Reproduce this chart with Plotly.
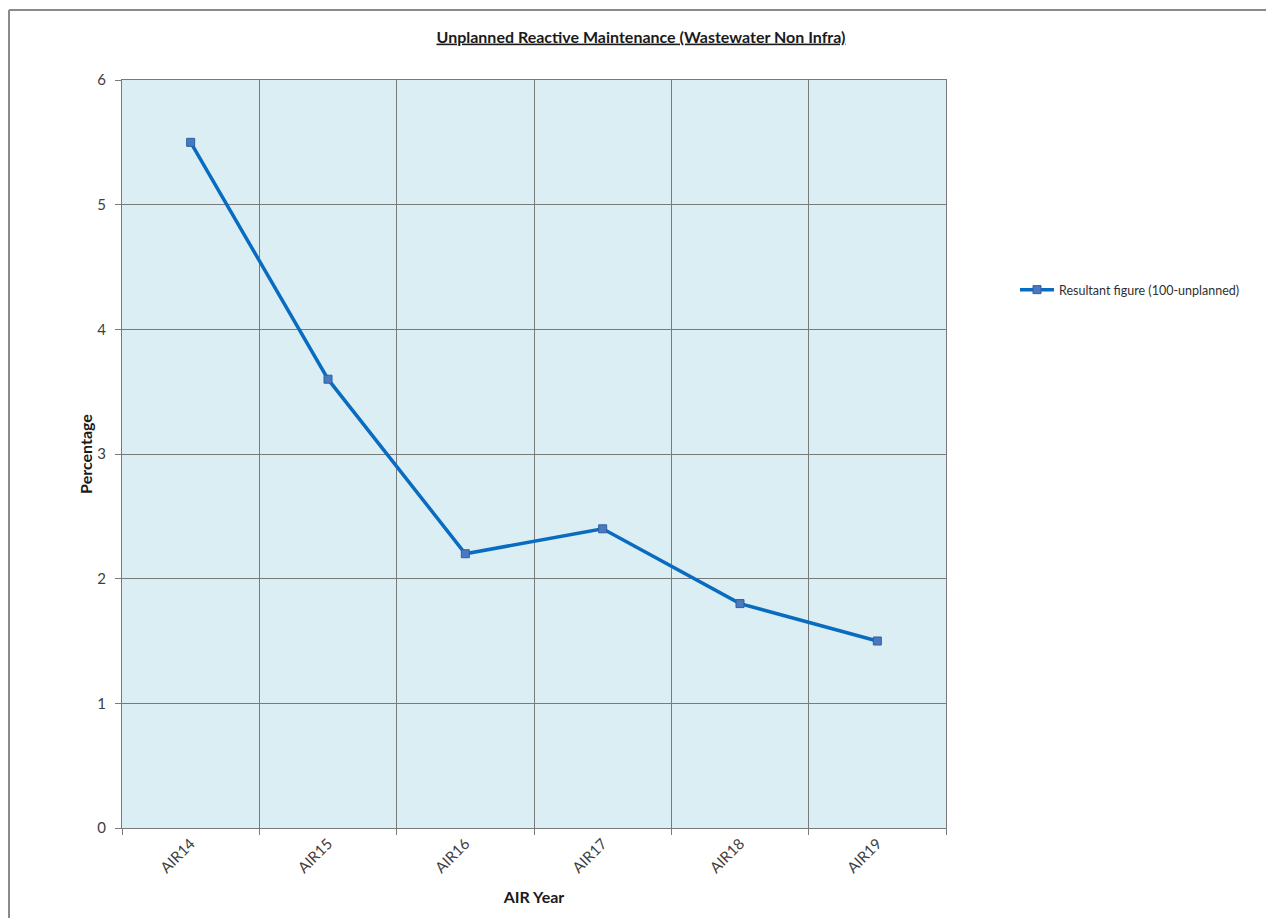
import plotly.graph_objects as go

# data
years = ["AIR14", "AIR15", "AIR16", "AIR17", "AIR18", "AIR19"]
resultant = [5.5, 3.6, 2.2, 2.4, 1.8, 1.5]
y_ticks = [0, 1, 2, 3, 4, 5, 6]

# page has an 8px body margin, so the figure is a bit smaller than the window
PAD = 8
W, H = 1274 - PAD, 918 - PAD
PL, PR, PT, PB = 122, 946, 80, 828          # plot area in page pixels
L, T = PL - PAD, PT - PAD
R, B = W - (PR - PAD), H - (PB - PAD)
pw, ph = PR - PL, PB - PT

FONT = "Lato, Calibri, Carlito, sans-serif"
GRID = "#7a7a7a"

fx = lambda px: (px - PL) / pw
fy = lambda py: (PB - py) / ph

fig = go.Figure()
fig.add_trace(go.Scatter(
    x=years,
    y=resultant,
    mode="lines+markers",
    name="Resultant figure (100-unplanned)",
    line=dict(color="#0a6cc0", width=3.5),
    marker=dict(symbol="square", size=8, color="#4a79c2",
                line=dict(color="#2f5f9e", width=1)),
))

# outer frame (top and left grey edge like the screenshot)
fig.add_shape(type="line", xref="paper", yref="paper",
              x0=fx(9), x1=fx(1274), y0=fy(10), y1=fy(10),
              line=dict(color="#8a8a8a", width=2))
fig.add_shape(type="line", xref="paper", yref="paper",
              x0=fx(9), x1=fx(9), y0=fy(10), y1=fy(918),
              line=dict(color="#8a8a8a", width=2))

fig.update_layout(
    width=W, height=H,
    margin=dict(l=L, r=R, t=T, b=B),
    paper_bgcolor="white",
    plot_bgcolor="#dbeef4",
    font=dict(family=FONT, color="#404040", size=12),
    title=dict(
        text="<b><u>Unplanned Reactive Maintenance (Wastewater Non Infra)</u></b>",
        x=(641 - PAD) / W, xanchor="center",
        y=1 - (37 - PAD) / H, yanchor="middle",
        font=dict(family=FONT, size=16, color="#1a1a1a"),
    ),
    showlegend=True,
    legend=dict(
        x=fx(1015), xanchor="left",
        y=fy(290), yanchor="middle",
        bgcolor="rgba(0,0,0,0)",
        font=dict(family=FONT, size=12.5, color="#303030"),
        itemwidth=34,
    ),
    xaxis=dict(
        type="category",
        range=[-0.5, len(years) - 0.5],
        tickson="boundaries",
        ticks="outside", ticklen=6, tickcolor=GRID,
        showgrid=True, gridcolor=GRID, gridwidth=1,
        showline=True, linecolor=GRID, linewidth=1, mirror=True,
        tickangle=-45,
        tickfont=dict(family=FONT, size=15, color="#404040"),
        title=dict(text="<b>AIR Year</b>", standoff=16,
                   font=dict(family=FONT, size=16, color="#1a1a1a")),
        zeroline=False,
    ),
    yaxis=dict(
        range=[0, 6],
        tickvals=y_ticks,
        ticks="outside", ticklen=6, tickcolor=GRID,
        ticklabelstandoff=6,
        showgrid=True, gridcolor=GRID, gridwidth=1,
        showline=True, linecolor=GRID, linewidth=1, mirror=True,
        tickfont=dict(family=FONT, size=15, color="#404040"),
        title=dict(text="<b>Percentage</b>", standoff=0,
                   font=dict(family=FONT, size=16, color="#1a1a1a")),
        zeroline=False,
    ),
)

fig.write_html("out.html")
